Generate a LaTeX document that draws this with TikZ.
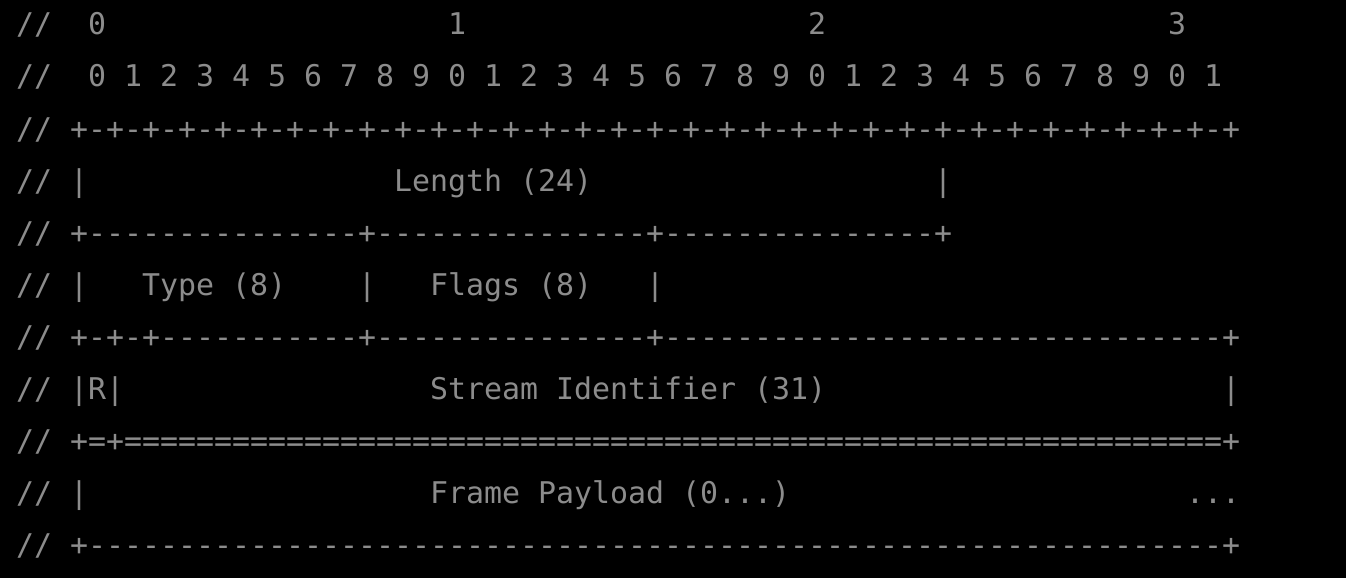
\documentclass[tikz,border=0pt]{standalone}
\usepackage{fontspec}
\setmonofont{DejaVu Sans Mono}
\usepackage{tikz}
\definecolor{termgray}{HTML}{8C8C8C}
\ExplSyntaxOn
\newcommand{\rpt}[2]{\prg_replicate:nn{#1}{#2}}
\ExplSyntaxOff

\begin{document}
\begin{tikzpicture}[x=18pt,y=-52pt,
  txt/.style={anchor=base west,inner sep=0pt,text=termgray,
    font=\ttfamily\fontsize{29.9pt}{52pt}\selectfont}]
\fill[black] (-0.8889,-0.6731) rectangle (73.8889,10.4423);
\useasboundingbox (-0.8889,-0.6731) rectangle (73.8889,10.4423);
% comment marks
\foreach \r in {0,...,10}
  \node[txt] (sl\r) at (0,\r) {//};
% bit numbers
\node[txt] (t0) at (4,0) {0};
\node[txt] (t1) at (24,0) {1};
\node[txt] (t2) at (44,0) {2};
\node[txt] (t3) at (64,0) {3};
\node[txt] (bits) at (4,1) {0 1 2 3 4 5 6 7 8 9 0 1 2 3 4 5 6 7 8 9 0 1 2 3 4 5 6 7 8 9 0 1};
\node[txt] (ruler) at (3,2) {\rpt{32}{+-}+};
% length
\node[txt] (lenl) at (3,3) {|};
\node[txt] (len) at (21,3) {Length (24)};
\node[txt] (lenr) at (51,3) {|};
\node[txt] (sep1) at (3,4) {+\rpt{15}{-}+\rpt{15}{-}+\rpt{15}{-}+};
% type and flags
\node[txt] (typel) at (3,5) {|};
\node[txt] (type) at (7,5) {Type (8)};
\node[txt] (typer) at (19,5) {|};
\node[txt] (flags) at (23,5) {Flags (8)};
\node[txt] (flagsr) at (35,5) {|};
\node[txt] (sep2) at (3,6) {+-+-+\rpt{11}{-}+\rpt{15}{-}+\rpt{31}{-}+};
% stream id
\node[txt] (rbit) at (3,7) {|R|};
\node[txt] (sid) at (23,7) {Stream Identifier (31)};
\node[txt] (sidr) at (67,7) {|};
\node[txt] (sep3) at (3,8) {+=+\rpt{61}{=}+};
% payload
\node[txt] (payl) at (3,9) {|};
\node[txt] (pay) at (23,9) {Frame Payload (0...)};
\node[txt] (dots) at (65,9) {...};
\node[txt] (sep4) at (3,10) {+\rpt{63}{-}+};
\end{tikzpicture}
\end{document}
